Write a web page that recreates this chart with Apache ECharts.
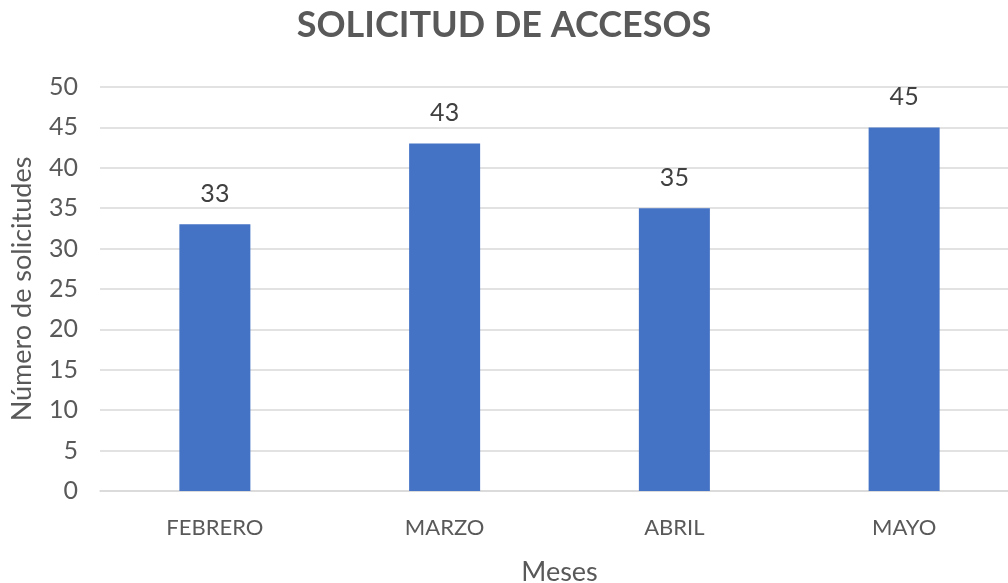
<!DOCTYPE html>
<html><head><meta charset="utf-8">
<script src="https://cdn.jsdelivr.net/npm/echarts@6/dist/echarts.min.js"></script>
<style>html,body{margin:0;padding:0;background:#fff}#c{width:1008px;height:583px}</style>
</head><body><div id="c"></div>
<script>
const categories = ['FEBRERO', 'MARZO', 'ABRIL', 'MAYO'];
const values = [33, 43, 35, 45];
const titleText = 'SOLICITUD DE ACCESOS';
const xName = 'Meses';
const yName = 'Número de solicitudes';

const font = 'Lato, "Open Sans", sans-serif';
const chart = echarts.init(document.getElementById('c'));
chart.setOption({
  animation: false,
  title: { text: titleText, left: 'center', top: 2,
    textStyle: { fontFamily: font, fontSize: 36, fontWeight: 'bold', color: '#595959' } },
  grid: { left: 100, width: 919, top: 87, height: 404, outerBoundsMode: 'none', containLabel: false },
  xAxis: {
    type: 'category', data: categories,
    name: xName, nameLocation: 'middle', nameGap: 68,
    nameTextStyle: { fontFamily: font, fontSize: 27, color: '#595959' },
    axisLine: { lineStyle: { color: '#d9d9d9', width: 1.5 } },
    axisTick: { show: false },
    axisLabel: { fontFamily: font, fontSize: 22, color: '#595959', margin: 26 }
  },
  yAxis: {
    type: 'value', min: 0, max: 50, interval: 5,
    name: yName, nameLocation: 'middle', nameGap: 64, nameRotate: 90,
    nameTextStyle: { fontFamily: font, fontSize: 27, color: '#595959' },
    axisLine: { show: false }, axisTick: { show: false },
    axisLabel: { fontFamily: font, fontSize: 25, color: '#595959', margin: 22 },
    splitLine: { lineStyle: { color: '#d9d9d9', width: 1.5 } }
  },
  series: [{
    type: 'bar', data: values, barWidth: 71,
    itemStyle: { color: '#4472c4' },
    label: { show: true, position: 'top', distance: 18,
      fontFamily: font, fontSize: 25, color: '#404040' }
  }]
});
</script></body></html>
